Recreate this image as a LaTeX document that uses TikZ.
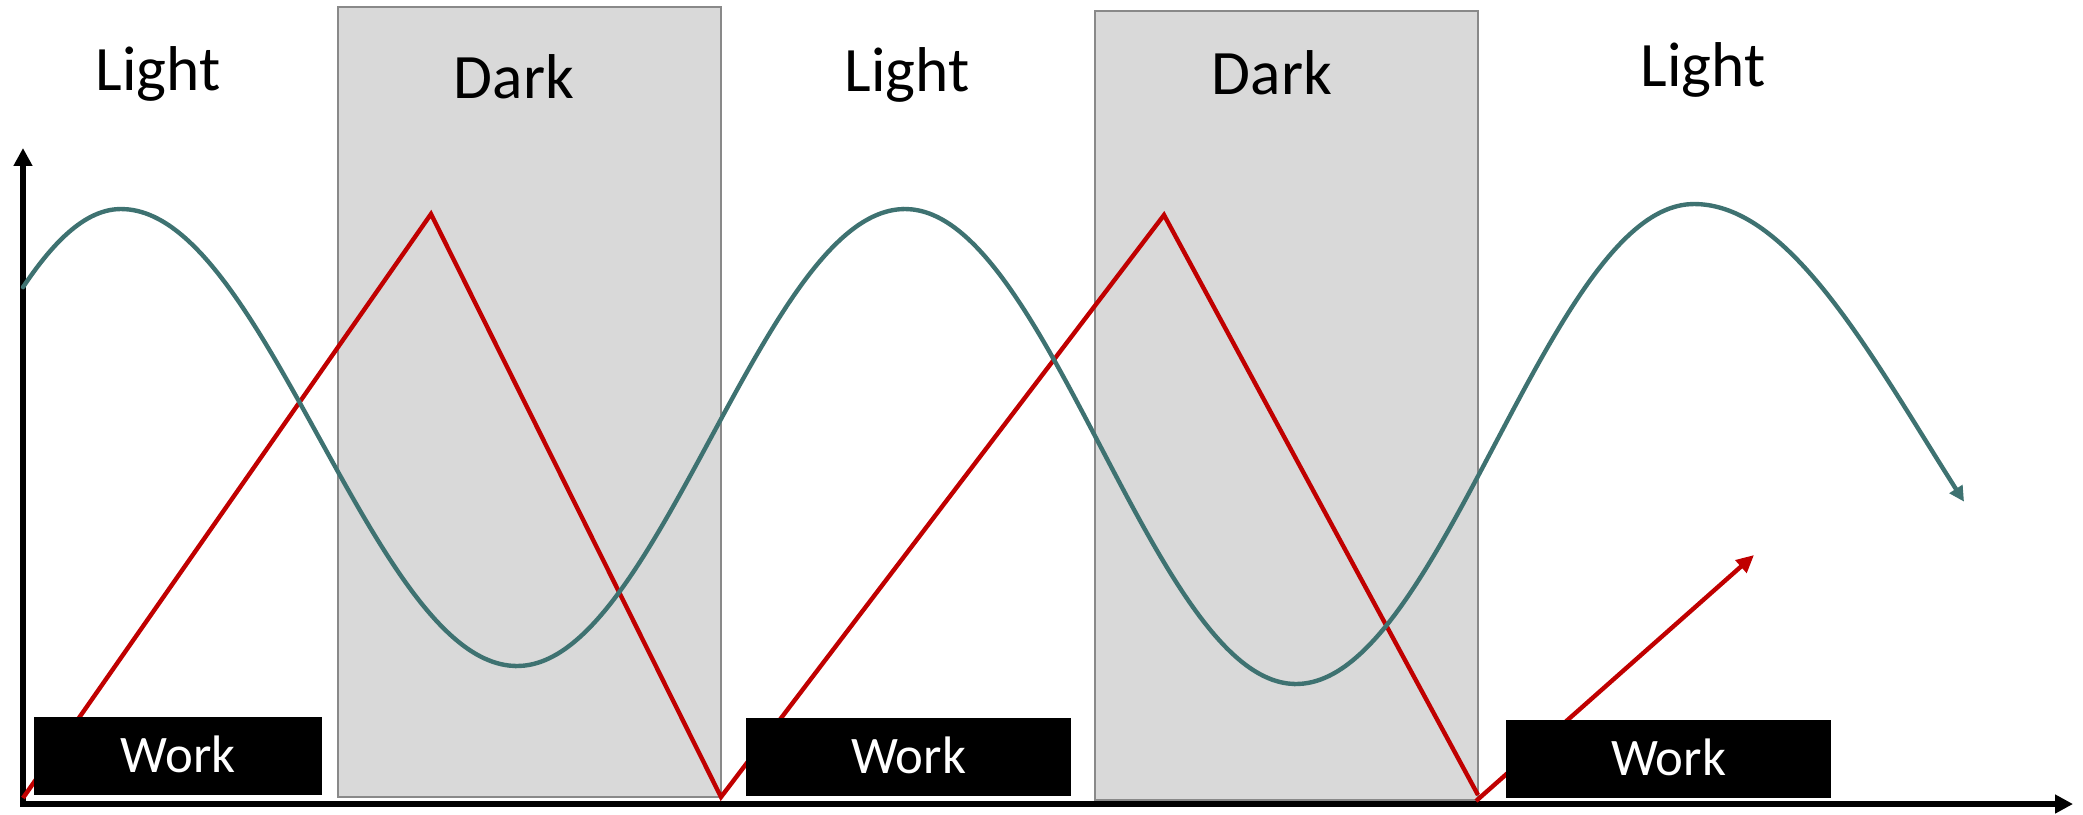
\documentclass[tikz,border=0pt]{standalone}
\usepackage{fontspec}
\setmainfont{Carlito}
\usetikzlibrary{arrows.meta}
\definecolor{tealc}{RGB}{62,114,113}
\definecolor{redc}{RGB}{192,0,0}
\definecolor{darkfill}{RGB}{217,217,217}
\definecolor{darkedge}{RGB}{137,137,137}
\begin{document}
\begin{tikzpicture}[x=0.01cm,y=-0.01cm,
  darkbox/.style={fill=darkfill,draw=darkedge,line width=0.6pt},
  phase/.style={font=\fontsize{18}{20}\selectfont,anchor=base,inner sep=0pt},
  workbox/.style={fill=black,text=white,font=\fontsize{15}{17}\selectfont,
    inner sep=0pt,minimum height=0.78cm,text height=9.5pt,text depth=0pt},
  axisline/.style={line width=1.5pt,draw=black,
    {Triangle[length=5.1pt,width=5.1pt]}-{Triangle[length=5.1pt,width=5.1pt]}},
  redline/.style={draw=redc,line width=1.25pt},
  tealline/.style={draw=tealc,line width=1.25pt,line cap=round}]
\useasboundingbox (0,0) rectangle (2083,814);

% dark periods
\draw[darkbox] (338,7) rectangle (721,797);
\draw[darkbox] (1095,11) rectangle (1478,800);

% labels
\node[phase] (light1) at (158,90) {Light};
\node[phase] (dark1) at (514,98) {Dark};
\node[phase] (light2) at (907,91) {Light};
\node[phase] (dark2) at (1272,94) {Dark};
\node[phase] (light3) at (1703,86) {Light};

% axes
\coordinate (ytip) at (23,148);
\coordinate (orig) at (23,804);
\coordinate (xtip) at (2073,804);
\draw[axisline] (ytip) -- (orig) -- (xtip);

% red zig-zag
\coordinate (r0) at (23,798);
\coordinate (r1) at (431,214);
\coordinate (r2) at (721,797);
\coordinate (r3) at (1164,215);
\coordinate (r4) at (1478,795);
\coordinate (r5) at (1476,801);
\coordinate (r6) at (1754,555);
\draw[redline] (r0) -- (r1) -- (r2) -- (r3) -- (r4);
\draw[redline,-{Triangle[length=5pt,width=4.6pt]}] (r5) -- (r6);

% teal wave
\draw[tealline,-{Triangle[length=4.3pt,width=4.2pt]}]
  plot[domain=23:121,samples=20,smooth] (\x,{437.5-228.5*cos((\x-121)/361*180)})
  -- plot[domain=121:517,samples=50,smooth] (\x,{437.5-228.5*cos((\x-121)/396*180)})
  -- plot[domain=517:905,samples=50,smooth] (\x,{437.5+228.5*cos((\x-517)/388*180)})
  -- plot[domain=905:1296,samples=50,smooth] (\x,{446.5-237.5*cos((\x-905)/391*180)})
  -- plot[domain=1296:1694,samples=50,smooth] (\x,{444+240*cos((\x-1296)/398*180)})
  -- plot[domain=1694:1964,samples=40,smooth] (\x,{442-238*cos((\x-1694)/465*180)});

% work boxes
\node[workbox,minimum width=2.88cm] (work1) at (178,756) {Work};
\node[workbox,minimum width=3.25cm] (work2) at (908.5,757) {Work};
\node[workbox,minimum width=3.25cm] (work3) at (1668.5,759) {Work};
\end{tikzpicture}
\end{document}
